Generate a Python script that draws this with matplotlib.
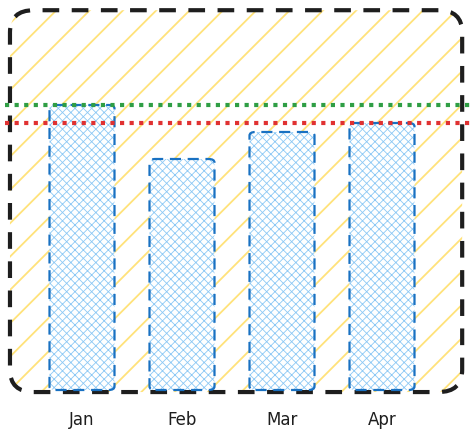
import matplotlib
matplotlib.use("Agg")
import matplotlib.pyplot as plt
from matplotlib.patches import FancyBboxPatch
from matplotlib.transforms import blended_transform_factory

months = ["Jan", "Feb", "Mar", "Apr"]
values = [95, 77, 86, 89]
max_line = 95
target_line = 89

fig = plt.figure(figsize=(4.75, 4.44), dpi=100)
ax = fig.add_axes([0, 0, 1, 1])
ax.set_xlim(-0.82, 3.93)
ax.set_ylim(-18, 130)
ax.axis("off")

# outer frame with yellow hatching
plt.rcParams["hatch.linewidth"] = 1.3
ax.add_patch(FancyBboxPatch((0.021, 0.117), 0.952, 0.86,
                            boxstyle="round,pad=0,rounding_size=0.05",
                            transform=ax.transAxes, facecolor="none",
                            edgecolor="#ffe27a", hatch="/", linewidth=0))
ax.add_patch(FancyBboxPatch((0.021, 0.117), 0.952, 0.86,
                            boxstyle="round,pad=0,rounding_size=0.05",
                            transform=ax.transAxes, facecolor="none",
                            edgecolor="#1e1e1e", linewidth=3, linestyle=(0, (4, 3))))

width = 0.65
for i, v in enumerate(values):
    plt.rcParams["hatch.linewidth"] = 0.6
    ax.add_patch(FancyBboxPatch((i - width / 2, 0), width, v,
                                boxstyle="round,pad=0,rounding_size=0.06",
                                facecolor="white", edgecolor="#8cc8f5", hatch="xxxx",
                                linewidth=0, mutation_aspect=20))
    ax.add_patch(FancyBboxPatch((i - width / 2, 0), width, v,
                                boxstyle="round,pad=0,rounding_size=0.06",
                                facecolor="none", edgecolor="#1971c2", linewidth=1.6,
                                linestyle=(0, (5, 3)), mutation_aspect=20))

ax.axhline(max_line, xmin=0.01, xmax=0.99, color="#2f9e44", linewidth=3, linestyle=(0, (1, 1.3)))
ax.axhline(target_line, xmin=0.01, xmax=0.99, color="#e03131", linewidth=3, linestyle=(0, (1, 1.3)))

trans = blended_transform_factory(ax.transData, ax.transAxes)
for i, m in enumerate(months):
    ax.text(i, 0.055, m, transform=trans, ha="center", va="center",
            fontsize=12, color="#1e1e1e")

fig.savefig("out.png", dpi=100)
